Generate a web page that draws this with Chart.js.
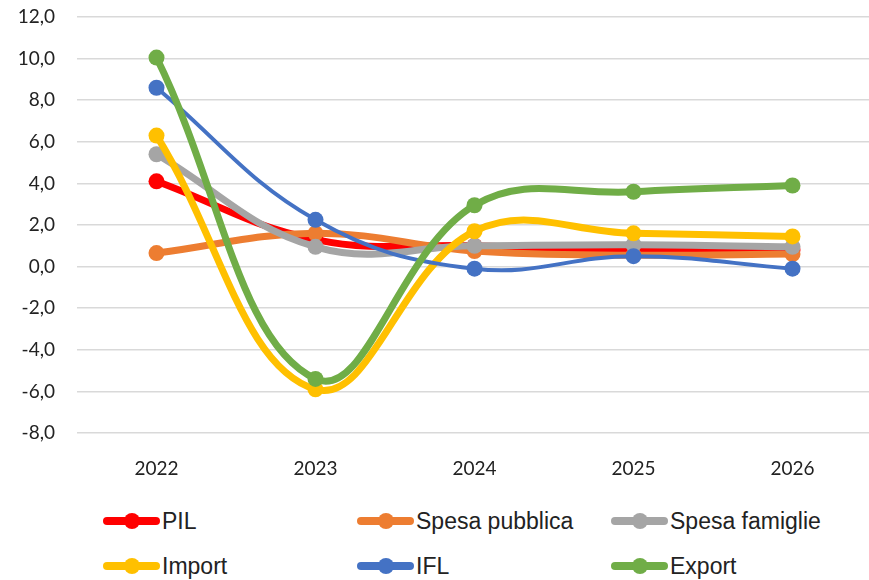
<!DOCTYPE html>
<html>
<head>
<meta charset="utf-8">
<script src="https://cdn.jsdelivr.net/npm/chart.js@4"></script>
<style>
  html, body { margin: 0; padding: 0; background: #fff; overflow: hidden; }
  #wrap { position: relative; width: 880px; height: 580px; }
  #box { position: absolute; left: 0; top: 0; width: 880px; height: 490px; }
  .legend { position: absolute; left: 0; top: 0; font-family: "Liberation Sans Narrow", "Liberation Sans", sans-serif; font-size: 23px; color: #222; }
  .item { position: absolute; display: flex; align-items: center; height: 30px; white-space: nowrap; }
  .sym { position: relative; width: 57px; height: 16px; margin-right: 2px; }
  .sym .ln { position: absolute; left: 0; right: 0; top: 4px; height: 8px; border-radius: 4px; }
  .sym .dot { position: absolute; left: 21px; top: 0; width: 16px; height: 16px; border-radius: 50%; }
</style>
</head>
<body>
<div id="wrap">
  <div id="box"><canvas id="myChart"></canvas></div>
  <div class="legend" id="legend"></div>
</div>
<script>
const years = ['2022', '2023', '2024', '2025', '2026'];

const pil = [4.1, 1.3, 1.0, 0.8, 0.8];
const spesaPubblica = [0.65, 1.6, 0.75, 0.55, 0.6];
const spesaFamiglie = [5.4, 0.95, 1.0, 1.05, 0.95];
const importVals = [6.3, -5.9, 1.7, 1.6, 1.45];
const ifl = [8.6, 2.25, -0.1, 0.5, -0.1];
const exportVals = [10.05, -5.4, 2.95, 3.6, 3.9];

const yTicks = [-8, -6, -4, -2, 0, 2, 4, 6, 8, 10, 12];

const series = [
  { label: 'PIL', data: pil, color: '#FF0000', width: 7 },
  { label: 'Spesa pubblica', data: spesaPubblica, color: '#ED7D31', width: 7 },
  { label: 'Spesa famiglie', data: spesaFamiglie, color: '#A5A5A5', width: 7 },
  { label: 'Import', data: importVals, color: '#FFC000', width: 7 },
  { label: 'IFL', data: ifl, color: '#4472C4', width: 4 },
  { label: 'Export', data: exportVals, color: '#70AD47', width: 7 },
];

const ctx = document.getElementById('myChart').getContext('2d');

const chart = new Chart(ctx, {
  type: 'line',
  data: {
    labels: years,
    datasets: series.map((s, i) => ({
      label: s.label,
      data: s.data,
      // later series are drawn on top, like in the original
      order: series.length - i,
      borderColor: s.color,
      backgroundColor: s.color,
      borderWidth: s.width,
      pointRadius: 8,
      pointBorderWidth: 0,
      pointBackgroundColor: s.color,
      tension: 0.4,
      fill: false,
    }))
  },
  options: {
    responsive: true,
    maintainAspectRatio: false,
    animation: false,
    layout: { padding: { top: 17, right: 0, bottom: 0, left: 0 } },
    plugins: {
      legend: { display: false },
      tooltip: { enabled: false },
    },
    scales: {
      x: {
        offset: true,
        grid: { display: false, drawTicks: false },
        border: { display: false },
        ticks: {
          padding: 24,
          color: '#222',
          font: { family: 'Lato, "Open Sans", sans-serif', size: 19 },
        },
        afterFit: (scale) => { scale.height = 57; },
      },
      y: {
        min: -8,
        max: 12,
        afterBuildTicks: (scale) => { scale.ticks = yTicks.map(v => ({ value: v })); },
        grid: { color: '#D9D9D9', lineWidth: 1.5, drawTicks: false },
        border: { display: false },
        ticks: {
          padding: 22,
          color: '#222',
          font: { family: 'Lato, "Open Sans", sans-serif', size: 19 },
          callback: (v) => v.toFixed(1).replace('.', ','),
        },
        afterFit: (scale) => {
          scale.width = 77;
          scale.paddingTop = 0;
          scale.paddingBottom = 0;
        },
      },
    },
  },
});

// legend in three columns, two rows
const legend = document.getElementById('legend');
const colX = [103, 357, 611];
const rowY = [506, 551];
series.forEach((s, i) => {
  const el = document.createElement('div');
  el.className = 'item';
  el.style.left = colX[i % 3] + 'px';
  el.style.top = rowY[Math.floor(i / 3)] + 'px';
  el.innerHTML = '<div class="sym"><div class="ln" style="background:' + s.color +
    '"></div><div class="dot" style="background:' + s.color + '"></div></div><span>' + s.label + '</span>';
  legend.appendChild(el);
});
</script>
</body>
</html>
